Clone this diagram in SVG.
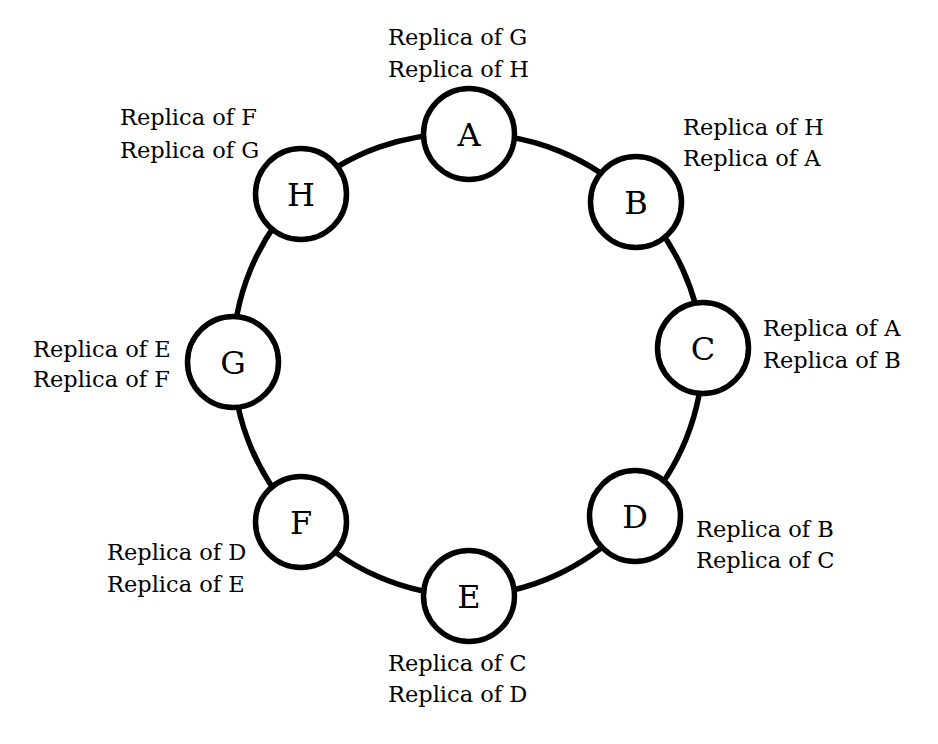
<svg xmlns="http://www.w3.org/2000/svg" width="938" height="744" viewBox="0 0 938 744">
<style>
.ring{fill:none;stroke:#000;stroke-width:5.5}
.node circle{fill:#fff;stroke:#000;stroke-width:5.5}
.node text.n{font-family:"DejaVu Serif",serif;font-size:32px;text-anchor:middle;fill:#000}
.lbl{font-family:"DejaVu Serif",serif;font-size:22.5px;fill:#000}
</style>
<rect width="938" height="744" fill="#fff"/>
<g id="connectors">
<path class="ring" d="M469,134 A232,232 0 0 1 636,202"/>
<path class="ring" d="M636,202 A232,232 0 0 1 703,348"/>
<path class="ring" d="M703,348 A232,232 0 0 1 635,516"/>
<path class="ring" d="M635,516 A232,232 0 0 1 469,596"/>
<path class="ring" d="M469,596 A232,232 0 0 1 301,522"/>
<path class="ring" d="M301,522 A232,232 0 0 1 233,362"/>
<path class="ring" d="M233,362 A232,232 0 0 1 301,194"/>
<path class="ring" d="M301,194 A232,232 0 0 1 469,134"/>
</g>
<g id="node-A" class="node"><circle cx="469" cy="134" r="45.5"/><text class="n" x="469" y="146">A</text>
<text class="lbl" x="388" y="45">Replica of G</text><text class="lbl" x="388" y="77">Replica of H</text></g>
<g id="node-B" class="node"><circle cx="636" cy="202" r="45.5"/><text class="n" x="636" y="214">B</text>
<text class="lbl" x="683" y="135">Replica of H</text><text class="lbl" x="683" y="166">Replica of A</text></g>
<g id="node-C" class="node"><circle cx="703" cy="348" r="45.5"/><text class="n" x="703" y="360">C</text>
<text class="lbl" x="763" y="336">Replica of A</text><text class="lbl" x="763" y="368">Replica of B</text></g>
<g id="node-D" class="node"><circle cx="635" cy="516" r="45.5"/><text class="n" x="635" y="528">D</text>
<text class="lbl" x="696" y="537">Replica of B</text><text class="lbl" x="696" y="568">Replica of C</text></g>
<g id="node-E" class="node"><circle cx="469" cy="596" r="45.5"/><text class="n" x="469" y="608">E</text>
<text class="lbl" x="388" y="671">Replica of C</text><text class="lbl" x="388" y="702">Replica of D</text></g>
<g id="node-F" class="node"><circle cx="301" cy="522" r="45.5"/><text class="n" x="301" y="534">F</text>
<text class="lbl" x="107" y="560">Replica of D</text><text class="lbl" x="107" y="592">Replica of E</text></g>
<g id="node-G" class="node"><circle cx="233" cy="362" r="45.5"/><text class="n" x="233" y="374">G</text>
<text class="lbl" x="33" y="357">Replica of E</text><text class="lbl" x="33" y="387">Replica of F</text></g>
<g id="node-H" class="node"><circle cx="301" cy="194" r="45.5"/><text class="n" x="301" y="206">H</text>
<text class="lbl" x="120" y="125">Replica of F</text><text class="lbl" x="120" y="158">Replica of G</text></g>
</svg>
